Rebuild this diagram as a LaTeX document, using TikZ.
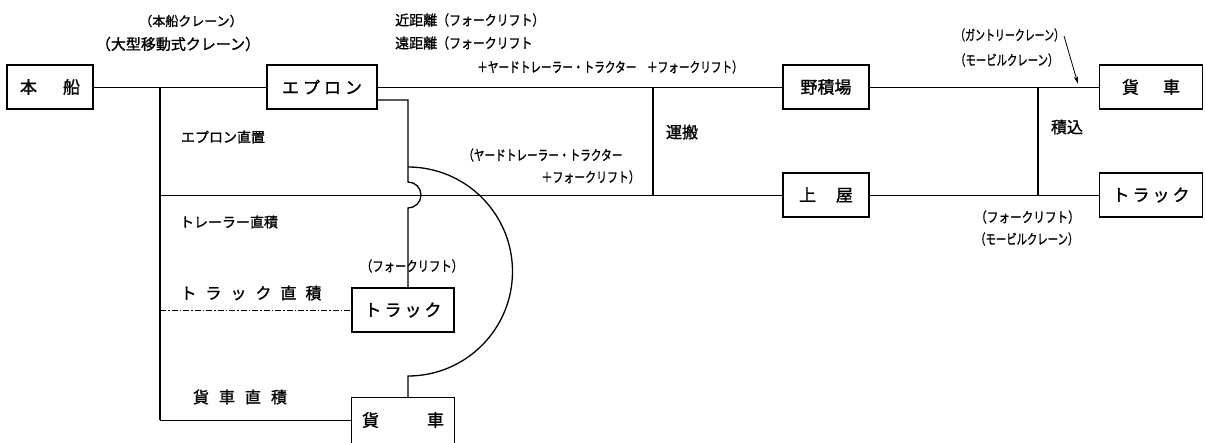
\documentclass[tikz,border=0pt]{standalone}
\usepackage{fontspec}
\setmainfont{Noto Sans CJK JP}
\newfontfamily\lbf{Noto Sans CJK JP}[FakeBold=1.3]
\usepackage{graphicx}
\usetikzlibrary{arrows.meta,calc}
\newcommand{\sx}[2]{\scalebox{#1}[1]{#2}}
\begin{document}
\begin{tikzpicture}[x=1pt,y=-1pt,
  box/.style={draw,line width=1.1pt,minimum height=44pt,inner sep=0pt,font=\lbf\fontsize{17}{17}\selectfont},
  lab/.style={inner sep=0pt,font=\lbf\fontsize{14}{14}\selectfont},
  biglab/.style={inner sep=0pt,font=\lbf\fontsize{16}{16}\selectfont},
  conn/.style={line width=0.8pt},
  trunk/.style={line width=1.3pt},
  dashdot/.style={line width=0.8pt,dash pattern=on 6pt off 2pt on 1.5pt off 2pt}]
\useasboundingbox (0,0) rectangle (1205,442);
\fill[white] (0,0) rectangle (1205,442);
% boxes
\node[box,minimum width=86pt] (honsen) at (50,87) {本\hspace{26pt}船};
\node[box,minimum width=110pt] (apron) at (322,87) {エ\hspace{4pt}プ\hspace{4pt}ロ\hspace{4pt}ン};
\node[box,minimum width=86pt] (noseki) at (826,87) {野積場};
\node[box,minimum width=103pt] (kasha1) at (1151,87) {貨\hspace{24pt}車};
\node[box,minimum width=86pt] (uwaya) at (826,195) {上\hspace{20pt}屋};
\node[box,minimum width=103pt] (truck1) at (1151,195) {ト\hspace{3pt}ラ\hspace{3pt}ッ\hspace{3pt}ク};
\node[box,minimum width=102pt] (truck2) at (403,310) {ト\hspace{3pt}ラ\hspace{3pt}ッ\hspace{3pt}ク};
\node[box,draw=none,minimum width=102pt] (kasha2) at (403,420) {貨\hspace{48pt}車};
\draw[line width=1.1pt] (kasha2.south west) -- (kasha2.north west) -- (kasha2.north east) -- (kasha2.south east);
% junctions
\coordinate (j1) at (160,87);
\coordinate (j2) at (408,100);
\coordinate (j3) at (653,87);
\coordinate (j4) at (1038,87);
\coordinate (tr) at (160,195);
\coordinate (tk) at (160,310);
\coordinate (a0) at (408,167);
\coordinate (ar0) at (1064,36);
\coordinate (ar1) at (1078,84);
% connectors
\draw[conn] (honsen) -- (apron);
\draw[trunk] (j1) -- (j1 |- kasha2.west);
\draw[conn] (j1 |- kasha2.west) -- (kasha2.west);
\draw[conn] (tr) -- (uwaya.west);
\draw[dashdot] (tk) -- (truck2.west);
\draw[trunk] (apron.east |- j2) -- (j2) -- ++(0,82) arc[start angle=270,end angle=450,radius=13] -- (truck2.north -| j2);
\draw[trunk] (a0) arc[start angle=270,end angle=450,radius=104.5] -- (kasha2.north -| a0);
\draw[conn] (apron) -- (noseki);
\draw[trunk] (j3) -- (j3 |- uwaya.west);
\draw[conn] (noseki) -- (kasha1);
\draw[trunk] (j4) -- (j4 |- truck1.west);
\draw[conn] (uwaya) -- (truck1);
\draw[conn,-{Stealth[length=8pt,width=4pt]}] (ar0) -- (ar1);
% labels
\node[lab,font=\lbf\fontsize{13}{13}\selectfont] (l1) at (191,21) {（本船クレーン）};
\node[lab,font=\lbf\fontsize{15}{15}\selectfont] (l2) at (178,44) {（大型移動式クレーン）};
\node[lab,anchor=west] (l3) at (395,20) {近距離\sx{0.85}{（フォークリフト）}};
\node[lab,anchor=west] (l4) at (395,43) {遠距離\sx{0.85}{（フォークリフト}};
\node[lab,anchor=west] (l5) at (477,67) {\sx{0.76}{＋ヤードトレーラー・トラクター　＋フォークリフト）}};
\node[lab] (l6) at (223,137) {エプロン直置};
\node[lab] (l7) at (229,222) {トレーラー直積};
\node[biglab] (l8) at (251,293) {ト\hspace{9pt}ラ\hspace{9pt}ッ\hspace{9pt}ク\hspace{9pt}直\hspace{9pt}積};
\node[biglab] (l9) at (240,397) {貨\hspace{10pt}車\hspace{10pt}直\hspace{10pt}積};
\node[lab] (l10) at (412,266) {\sx{0.81}{（フォークリフト）}};
\node[lab,anchor=west] (l11) at (463,155) {\sx{0.76}{（ヤードトレーラー・トラクター}};
\node[lab,anchor=east] (l12) at (640,177) {\sx{0.78}{＋フォークリフト）}};
\node[biglab] (l13) at (682,132) {運搬};
\node[biglab] (l14) at (1067,127) {積込};
\node[lab,anchor=west] (l15) at (955,35) {\sx{0.71}{（ガントリークレーン）}};
\node[lab,anchor=west] (l16) at (955,60) {\sx{0.74}{（モービルクレーン）}};
\node[lab,anchor=west] (l17) at (975,217) {\sx{0.83}{（フォークリフト）}};
\node[lab,anchor=west] (l18) at (975,239) {\sx{0.74}{（モービルクレーン）}};
\end{tikzpicture}
\end{document}
